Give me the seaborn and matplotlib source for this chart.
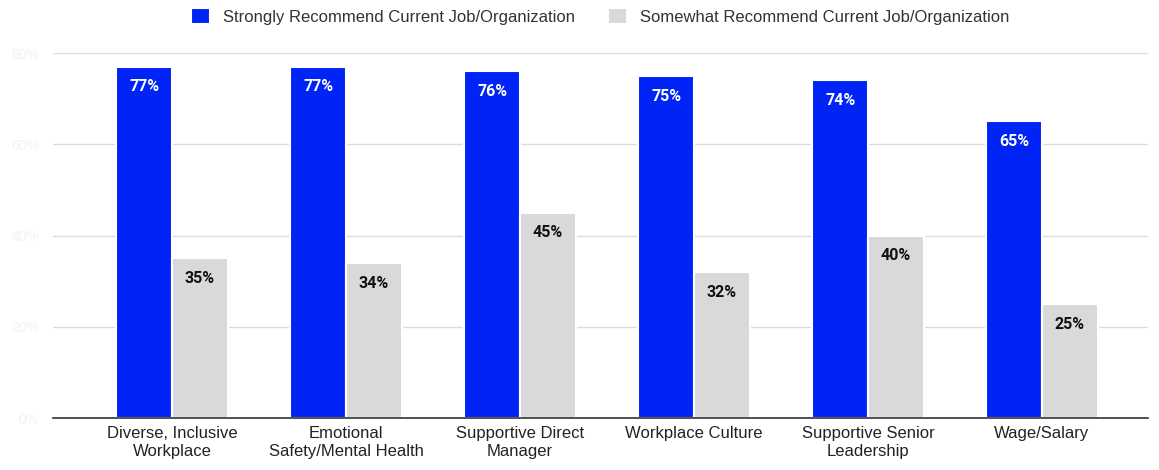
import matplotlib
matplotlib.use("Agg")
import matplotlib.pyplot as plt
import seaborn as sns
import pandas as pd

categories = ["Diverse, Inclusive\nWorkplace", "Emotional\nSafety/Mental Health",
              "Supportive Direct\nManager", "Workplace Culture",
              "Supportive Senior\nLeadership", "Wage/Salary"]
strongly = [77, 77, 76, 75, 74, 65]
somewhat = [35, 34, 45, 32, 40, 25]
series_names = ["Strongly Recommend Current Job/Organization",
                "Somewhat Recommend Current Job/Organization"]
y_ticks = [0, 20, 40, 60, 80]
y_tick_labels = ["0%", "20%", "40%", "60%", "80%"]

df = pd.DataFrame({
    "category": categories * 2,
    "value": strongly + somewhat,
    "series": [series_names[0]] * len(categories) + [series_names[1]] * len(categories),
})

sns.set_theme(style="white")
plt.rcParams["font.family"] = ["Liberation Sans", "DejaVu Sans"]

fig = plt.figure(figsize=(11.59, 4.70), dpi=100)
ax = fig.add_axes([0.0457, 0.1106, 0.9448, 0.7766])

palette = {series_names[0]: "#0024F5", series_names[1]: "#D9D9D9"}
sns.barplot(data=df, x="category", y="value", hue="series", palette=palette,
            width=0.64, ax=ax, edgecolor="white", linewidth=1.5, saturation=1,
            order=categories, hue_order=series_names)

ax.set_ylim(0, 80)
ax.set_xlim(-0.684, 5.609)
ax.set_yticks(y_ticks)
ax.set_yticklabels(y_tick_labels, color="#F2F2F2", fontsize=10)
ax.yaxis.grid(True, color="#DDDDDD", linewidth=1)
ax.set_axisbelow(True)
ax.tick_params(axis="x", labelsize=12, colors="#222222", length=0, pad=6)
ax.tick_params(axis="y", length=0, pad=10)
ax.set_xlabel("")
ax.set_ylabel("")
for s in ["top", "right", "left"]:
    ax.spines[s].set_visible(False)
ax.spines["bottom"].set_color("#333333")
ax.spines["bottom"].set_linewidth(1.2)

for i, cont in enumerate(ax.containers):
    color = "white" if i == 0 else "#111111"
    labels = [f"{int(round(v))}%" for v in cont.datavalues]
    ax.bar_label(cont, labels=labels, label_type="edge", padding=-20,
                 color=color, fontsize=11.5, fontweight="bold",
                 family=["Roboto", "DejaVu Sans"])

ax.legend(loc="center", bbox_to_anchor=(0.5, 1.1), ncol=2, frameon=False,
          fontsize=12, handlelength=1.1, handleheight=1.1, columnspacing=2.0,
          handletextpad=0.8, labelcolor="#333333")

fig.savefig("out.png", dpi=100)
